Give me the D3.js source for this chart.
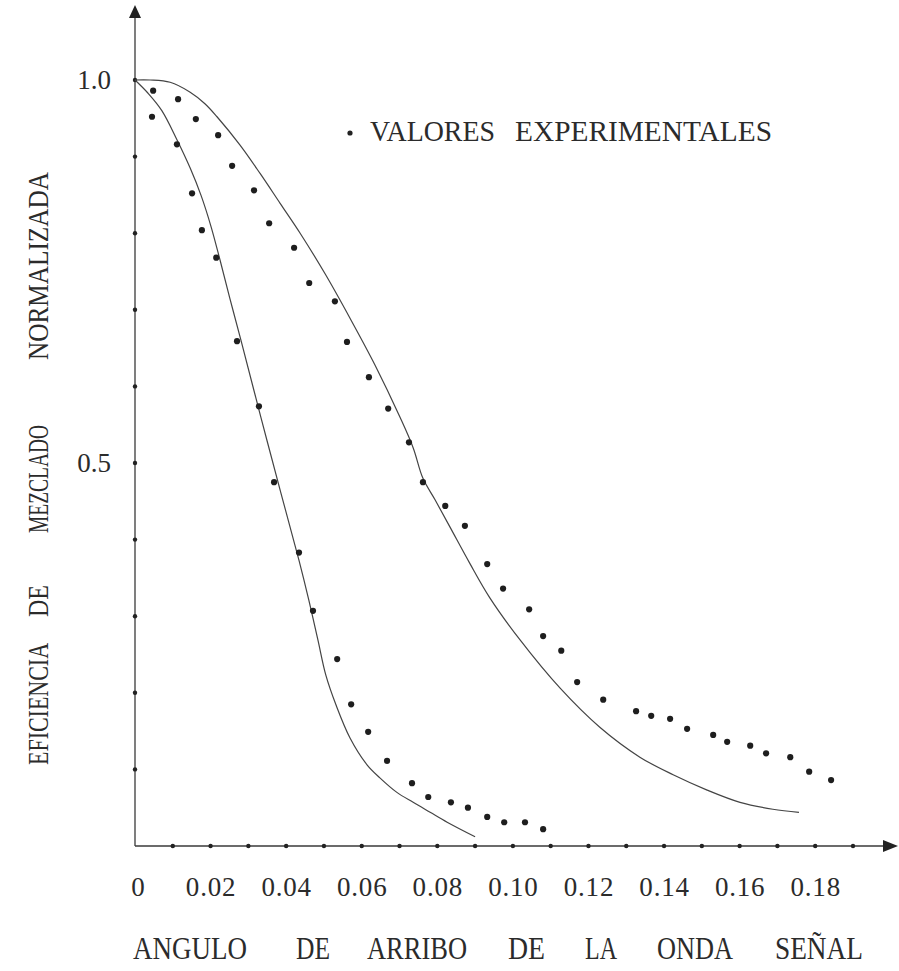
<!DOCTYPE html>
<html>
<head>
<meta charset="utf-8">
<script src="https://cdn.jsdelivr.net/npm/d3@7"></script>
<style>
  html, body { margin: 0; padding: 0; background: #ffffff; }
  svg { display: block; }
  text { font-family: "Liberation Serif", "DejaVu Serif", serif; fill: #2b2b2b; }
</style>
</head>
<body>
<svg id="chart" width="899" height="971"></svg>
<script>
// ---------------- DATA ----------------
const xTickLabels = [0, 0.02, 0.04, 0.06, 0.08, 0.10, 0.12, 0.14, 0.16, 0.18];
const xTickLabelText = ["0", "0.02", "0.04", "0.06", "0.08", "0.10", "0.12", "0.14", "0.16", "0.18"];
const xTickDots = [0.01,0.02,0.03,0.04,0.05,0.06,0.07,0.08,0.09,0.10,0.11,0.12,0.13,0.14,0.15,0.16,0.17,0.18,0.19];
const yTickLabels = [0.5, 1.0];
const yTickDots = [0.1,0.2,0.3,0.4,0.5,0.6,0.7,0.8,0.9,1.0];

const xTitleWords = ["ANGULO", "DE", "ARRIBO", "DE", "LA", "ONDA", "SEÑAL"];
const yTitleWords = ["EFICIENCIA", "DE", "MEZCLADO", "NORMALIZADA"];
const legendWords = ["VALORES", "EXPERIMENTALES"];

// Theoretical curve, narrow (x, y)
const curveNarrowX = [0, 0.0034, 0.0071, 0.0111, 0.0146, 0.0175, 0.0201, 0.0225, 0.0251, 0.0281, 0.0333, 0.0386, 0.0434, 0.0460, 0.0484, 0.0505, 0.0532, 0.0569, 0.0614, 0.0648, 0.0693, 0.0736, 0.0781, 0.0826, 0.0900];
const curveNarrowY = [1.0, 0.983, 0.960, 0.922, 0.885, 0.849, 0.809, 0.765, 0.715, 0.659, 0.560, 0.461, 0.373, 0.321, 0.269, 0.223, 0.184, 0.141, 0.106, 0.089, 0.070, 0.057, 0.044, 0.031, 0.012];

// Theoretical curve, wide (x, y)
const curveWideX = [0, 0.0040, 0.0093, 0.0146, 0.0185, 0.0217, 0.0278, 0.0331, 0.0384, 0.0437, 0.0503, 0.0569, 0.0635, 0.0701, 0.0736, 0.0762, 0.0794, 0.0834, 0.0886, 0.0939, 0.1019, 0.1125, 0.1230, 0.1336, 0.1424, 0.1514, 0.1601, 0.1688, 0.1757];
const curveWideY = [1.0, 1.0, 0.997, 0.984, 0.969, 0.952, 0.915, 0.878, 0.839, 0.800, 0.747, 0.689, 0.628, 0.560, 0.520, 0.480, 0.452, 0.416, 0.369, 0.324, 0.269, 0.206, 0.155, 0.116, 0.093, 0.073, 0.057, 0.048, 0.044];

// Experimental values, narrow set
const expNarrowX = [0.0045, 0.0111, 0.0151, 0.0177, 0.0215, 0.0270, 0.0328, 0.0368, 0.0434, 0.0471, 0.0535, 0.0572, 0.0617, 0.0667, 0.0733, 0.0776, 0.0836, 0.0881, 0.0932, 0.0977, 0.1032, 0.1080];
const expNarrowY = [0.952, 0.916, 0.852, 0.804, 0.768, 0.659, 0.574, 0.475, 0.383, 0.307, 0.244, 0.185, 0.149, 0.111, 0.082, 0.064, 0.057, 0.050, 0.038, 0.031, 0.031, 0.022];

// Experimental values, wide set
const expWideX = [0.0048, 0.0114, 0.0161, 0.0220, 0.0257, 0.0315, 0.0355, 0.0421, 0.0461, 0.0529, 0.0561, 0.0619, 0.0670, 0.0725, 0.0762, 0.0821, 0.0873, 0.0932, 0.0974, 0.1043, 0.1080, 0.1128, 0.1170, 0.1239, 0.1326, 0.1366, 0.1416, 0.1461, 0.1530, 0.1567, 0.1628, 0.1670, 0.1734, 0.1784, 0.1842];
const expWideY = [0.986, 0.975, 0.949, 0.928, 0.888, 0.856, 0.813, 0.781, 0.735, 0.711, 0.658, 0.612, 0.571, 0.527, 0.475, 0.444, 0.418, 0.368, 0.336, 0.309, 0.274, 0.255, 0.214, 0.191, 0.176, 0.170, 0.166, 0.153, 0.145, 0.136, 0.131, 0.121, 0.116, 0.097, 0.086];

// ---------------- LAYOUT ----------------
const svg = d3.select("#chart");
const x = d3.scaleLinear().domain([0, 0.19]).range([135, 853]);
const y = d3.scaleLinear().domain([0, 1]).range([846, 80]);
const ink = "#3a3a3a";

// axes lines
svg.append("line").attr("x1", x(0)).attr("x2", 890).attr("y1", y(0)).attr("y2", y(0))
  .attr("stroke", ink).attr("stroke-width", 1.3);
svg.append("path").attr("d", `M898,${y(0)} L883,${y(0)-6} L883,${y(0)+6} Z`).attr("fill", "#222");
svg.append("line").attr("x1", x(0)).attr("x2", x(0)).attr("y1", y(0)).attr("y2", 12)
  .attr("stroke", ink).attr("stroke-width", 1.3);
svg.append("path").attr("d", `M${x(0)},5 L${x(0)-6},18 L${x(0)+6},18 Z`).attr("fill", "#222");

// tick dots
svg.append("g").selectAll("circle").data(xTickDots).join("circle")
  .attr("cx", d => x(d)).attr("cy", y(0)).attr("r", 2.2).attr("fill", "#222");
svg.append("g").selectAll("circle").data(yTickDots).join("circle")
  .attr("cx", x(0)).attr("cy", d => y(d)).attr("r", 2.2).attr("fill", "#222");

// axis labels via d3 axes
const xAxis = d3.axisBottom(x).tickValues(xTickLabels).tickSize(0).tickPadding(31)
  .tickFormat((d, i) => xTickLabelText[i]);
const gx = svg.append("g").attr("transform", `translate(0,${y(0)})`).call(xAxis);
gx.select(".domain").remove();
gx.selectAll("text").attr("font-size", 27).attr("font-family", "Liberation Serif, serif")
  .attr("fill", "#2b2b2b").attr("letter-spacing", 0.8);
gx.selectAll(".tick").filter(d => d === 0).select("text").attr("dx", 3);

const yAxis = d3.axisLeft(y).tickValues(yTickLabels).tickSize(0).tickPadding(24)
  .tickFormat(d3.format(".1f"));
const gy = svg.append("g").attr("transform", `translate(${x(0)},0)`).call(yAxis);
gy.select(".domain").remove();
gy.selectAll("text").attr("font-size", 27).attr("font-family", "Liberation Serif, serif")
  .attr("fill", "#2b2b2b");

// curves
const line = d3.line().x(d => x(d[0])).y(d => y(d[1])).curve(d3.curveCatmullRom.alpha(0.5));
const narrow = curveNarrowX.map((v, i) => [v, curveNarrowY[i]]);
const wide = curveWideX.map((v, i) => [v, curveWideY[i]]);
svg.append("path").datum(narrow).attr("d", line).attr("fill", "none").attr("stroke", "#444").attr("stroke-width", 1.2);
svg.append("path").datum(wide).attr("d", line).attr("fill", "none").attr("stroke", "#444").attr("stroke-width", 1.2);

// experimental dots
const expN = expNarrowX.map((v, i) => [v, expNarrowY[i]]);
const expW = expWideX.map((v, i) => [v, expWideY[i]]);
svg.append("g").selectAll("circle").data(expN).join("circle")
  .attr("cx", d => x(d[0])).attr("cy", d => y(d[1])).attr("r", 3.1).attr("fill", "#1e1e1e");
svg.append("g").selectAll("circle").data(expW).join("circle")
  .attr("cx", d => x(d[0])).attr("cy", d => y(d[1])).attr("r", 3.1).attr("fill", "#1e1e1e");

// legend
svg.append("circle").attr("cx", 350).attr("cy", 133).attr("r", 2.6).attr("fill", "#222");
const legendPos = [[370, 125], [515, 257]];
legendWords.forEach((w, i) => {
  svg.append("text").attr("x", legendPos[i][0]).attr("y", 141)
    .attr("font-size", 30).attr("textLength", legendPos[i][1]).attr("lengthAdjust", "spacingAndGlyphs")
    .text(w);
});

// x title
const xTitlePos = [[133, 114], [296, 34], [367, 100], [508, 37], [585, 32], [657, 76], [775, 88]];
xTitleWords.forEach((w, i) => {
  svg.append("text").attr("x", xTitlePos[i][0]).attr("y", 959)
    .attr("font-size", 32).attr("textLength", xTitlePos[i][1]).attr("lengthAdjust", "spacingAndGlyphs")
    .text(w);
});

// y title (rotated)
const yTitlePos = [[765, 122], [617, 32], [533, 108], [360, 188]];
const gyt = svg.append("g").attr("transform", "translate(48,0) rotate(-90)");
yTitleWords.forEach((w, i) => {
  gyt.append("text").attr("x", -yTitlePos[i][0]).attr("y", 0)
    .attr("font-size", 30).attr("textLength", yTitlePos[i][1]).attr("lengthAdjust", "spacingAndGlyphs")
    .text(w);
});
</script>
</body>
</html>
